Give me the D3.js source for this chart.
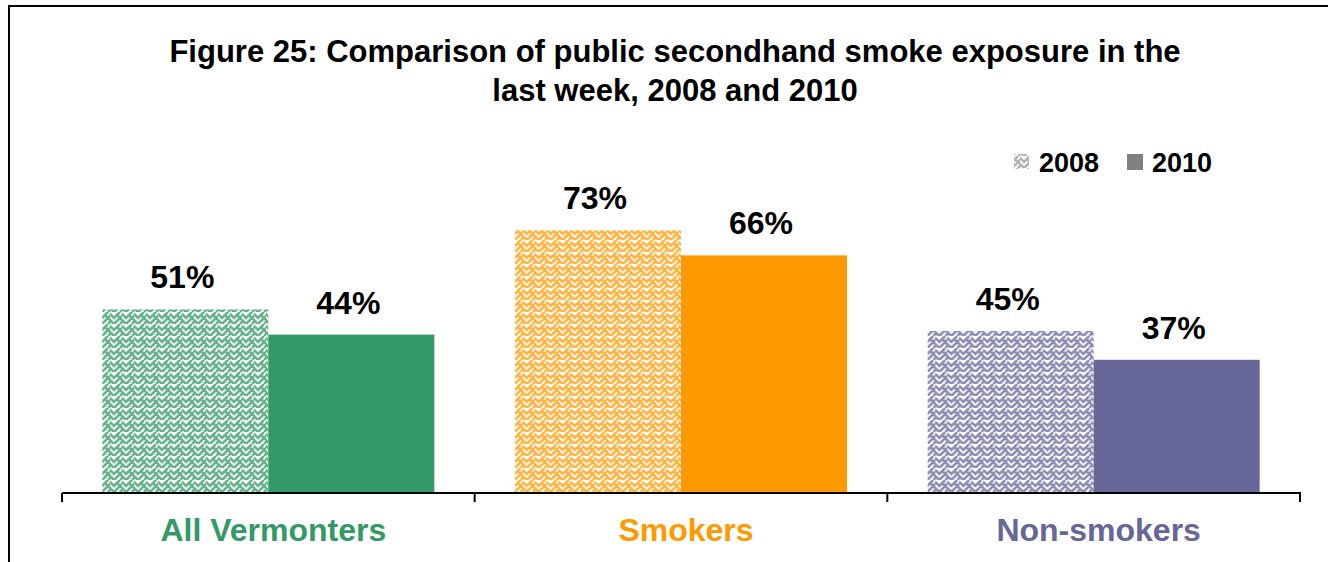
<!DOCTYPE html>
<html><head><meta charset="utf-8">
<script src="https://cdn.jsdelivr.net/npm/d3@7/dist/d3.min.js"></script>
<style>body{margin:0;background:#fff;}svg{display:block;font-family:"Liberation Sans",Arial,sans-serif;}</style>
</head><body><div id="c"></div>
<script>
const categories = ["All Vermonters", "Smokers", "Non-smokers"];
const years = ["2008", "2010"];
const values2008 = [51, 73, 45];
const values2010 = [44, 66, 37];
const colors = ["#339966", "#FF9900", "#666699"];
const titleLines = ["Figure 25: Comparison of public secondhand smoke exposure in the", "last week, 2008 and 2010"];

const W = 1328, H = 562;
const svg = d3.select("#c").append("svg").attr("width", W).attr("height", H);
const defs = svg.append("defs");
function weave(id, color) {
  const p = defs.append("pattern").attr("id", id).attr("patternUnits", "userSpaceOnUse")
    .attr("width", 12).attr("height", 12);
  p.append("rect").attr("width", 12).attr("height", 12).attr("fill", "#fff");
  const g = p.append("g").attr("stroke", color).attr("stroke-width", 2.6).attr("fill", "none").attr("opacity", 0.75);
  g.append("path").attr("d", "M-1,1 L4,6 L10,0 M-1,7 L4,12 M4,12 L13,3 M10,12 L13,9 M7,3 L13,9");
  g.append("path").attr("d", "M1,9 L-2,12");
}
colors.forEach((c, i) => weave("pat" + i, c));
weave("patLegend", "#999");

// frame
svg.append("rect").attr("x", 9).attr("y", 6).attr("width", 1340).attr("height", 600)
  .attr("fill", "none").attr("stroke", "#000").attr("stroke-width", 2);

// title
svg.append("text").attr("x", 675).attr("y", 62).attr("text-anchor", "middle")
  .attr("font-size", 31).attr("font-weight", "bold")
  .selectAll("tspan").data(titleLines).join("tspan")
  .attr("x", 675).attr("dy", (d, i) => i ? 39 : 0).text(d => d);

const x0 = d3.scaleBand().domain(categories).range([62, 1300]).paddingInner(0).paddingOuter(0);
const x1 = d3.scaleBand().domain(years).range([0, x0.bandwidth()]).paddingOuter(0.243).paddingInner(0);
const y = d3.scaleLinear().domain([0, 100]).range([493, 133]);

const data = categories.map((c, i) => ({ c, i, vals: [values2008[i], values2010[i]] }));
const grp = svg.append("g").selectAll("g").data(data).join("g")
  .attr("transform", d => `translate(${x0(d.c)},0)`);
grp.selectAll("rect").data(d => d.vals.map((v, k) => ({ v, k, i: d.i })))
  .join("rect")
  .attr("x", d => x1(years[d.k])).attr("width", x1.bandwidth())
  .attr("y", d => y(d.v)).attr("height", d => y(0) - y(d.v))
  .attr("fill", d => d.k === 0 ? `url(#pat${d.i})` : colors[d.i]);
grp.selectAll("text.lbl").data(d => d.vals.map((v, k) => ({ v, k })))
  .join("text").attr("class", "lbl")
  .attr("x", d => x1(years[d.k]) + x1.bandwidth() / 2 - 3)
  .attr("y", d => y(d.v) - 21)
  .attr("text-anchor", "middle").attr("font-size", 32).attr("font-weight", "bold")
  .text(d => d.v + "%");

// axis
const axis = svg.append("g").attr("transform", "translate(0,493)");
axis.append("line").attr("x1", 62).attr("x2", 1301).attr("stroke", "#000").attr("stroke-width", 2);
const tickPos = categories.map(c => x0(c)).concat([x0.range()[1]]);
axis.selectAll("line.t").data(tickPos).join("line").attr("class", "t")
  .attr("x1", d => d).attr("x2", d => d).attr("y1", 0).attr("y2", 9)
  .attr("stroke", "#000").attr("stroke-width", 2);
axis.selectAll("text").data(categories).join("text")
  .attr("x", d => x0(d) + x0.bandwidth() / 2 + 5).attr("y", 48)
  .attr("text-anchor", "middle").attr("font-size", 32).attr("font-weight", "bold")
  .attr("fill", (d, i) => colors[i]).text(d => d);

// legend
const leg = svg.append("g");
leg.append("rect").attr("x", 1014).attr("y", 154).attr("width", 15).attr("height", 15).attr("fill", "url(#patLegend)");
leg.append("text").attr("x", 1039).attr("y", 172).attr("font-size", 27).attr("font-weight", "bold").text(years[0]);
leg.append("rect").attr("x", 1127).attr("y", 154).attr("width", 16).attr("height", 16).attr("fill", "#808080");
leg.append("text").attr("x", 1152).attr("y", 172).attr("font-size", 27).attr("font-weight", "bold").text(years[1]);
</script></body></html>
